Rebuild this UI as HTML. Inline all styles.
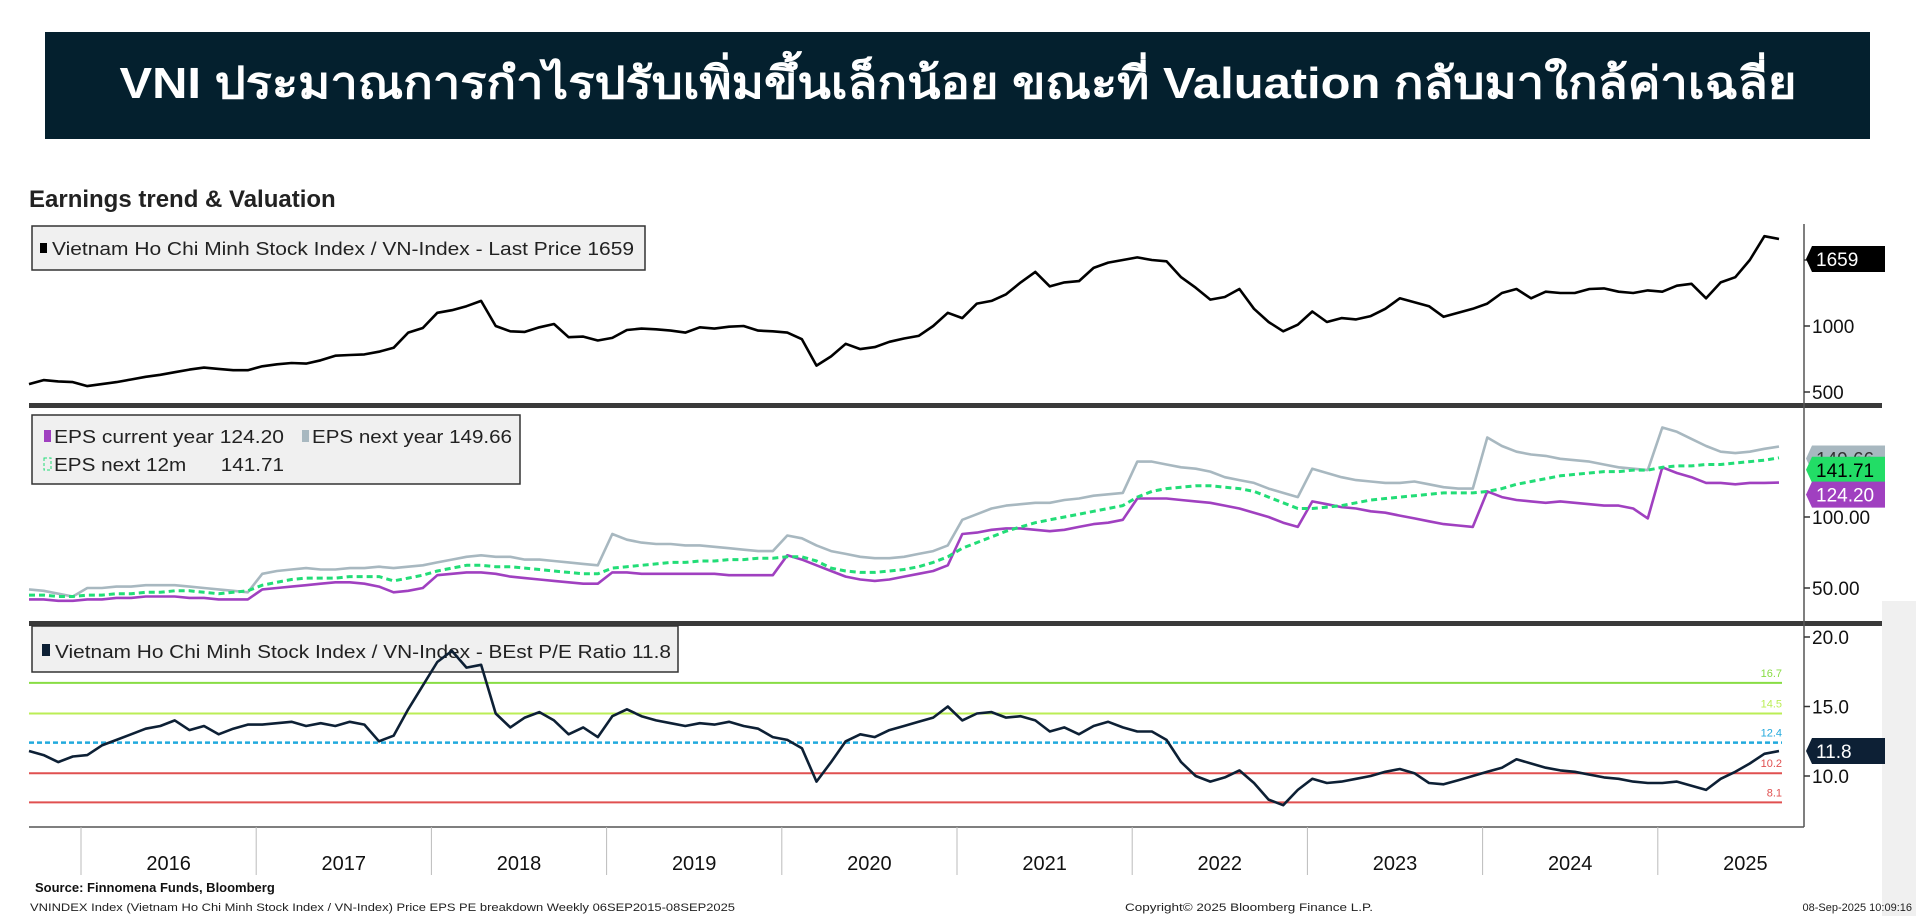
<!DOCTYPE html>
<html><head><meta charset="utf-8"><style>
body{margin:0;background:#fff;width:1916px;height:916px;overflow:hidden}
svg{display:block}
text{font-family:"Liberation Sans","DejaVu Sans",sans-serif}
</style></head><body>
<svg id="c" width="1916" height="916">
<rect x="1882" y="601" width="34" height="315" fill="#f0f0f0"/>
<rect x="45" y="32" width="1825" height="107" fill="#04202e"/>
<text x="958" y="98" text-anchor="middle" fill="#fff" font-size="44" font-weight="bold" textLength="1677" lengthAdjust="spacingAndGlyphs">VNI ประมาณการกำไรปรับเพิ่มขึ้นเล็กน้อย ขณะที่ Valuation กลับมาใกล้ค่าเฉลี่ย</text>
<text x="29" y="207" font-size="24" font-weight="bold" fill="#222">Earnings trend &amp; Valuation</text>
<rect x="29" y="403" width="1853" height="5" fill="#3a3a3a"/>
<rect x="29" y="621" width="1853" height="5" fill="#3a3a3a"/>
<line x1="1804" y1="224" x2="1804" y2="827" stroke="#555" stroke-width="1.5"/>
<line x1="29" y1="827" x2="1804" y2="827" stroke="#555" stroke-width="1.5"/>
<rect x="32" y="626" width="646" height="46" fill="#f0f0f0" stroke="#333" stroke-width="1.5"/>
<rect x="42" y="644" width="8" height="12" fill="#0d2035"/>
<text x="55" y="658" font-size="18" fill="#222" textLength="616" lengthAdjust="spacingAndGlyphs">Vietnam Ho Chi Minh Stock Index / VN-Index - BEst P/E Ratio 11.8</text>
<g id="g"></g>
<rect x="32" y="226" width="613" height="44" fill="#f0f0f0" stroke="#333" stroke-width="1.5"/>
<rect x="40" y="243" width="7" height="10" fill="#000"/>
<text x="52" y="255" font-size="18" fill="#222" textLength="582" lengthAdjust="spacingAndGlyphs">Vietnam Ho Chi Minh Stock Index / VN-Index - Last Price 1659</text>
<rect x="32" y="415" width="488" height="69" fill="#f0f0f0" stroke="#333" stroke-width="1.5"/>
<rect x="44" y="430" width="7" height="12" fill="#a040c0"/>
<text x="54" y="443" font-size="18" fill="#222" textLength="230" lengthAdjust="spacingAndGlyphs">EPS current year 124.20</text>
<rect x="302" y="430" width="7" height="12" fill="#a8b8c0"/>
<text x="312" y="443" font-size="18" fill="#222" textLength="200" lengthAdjust="spacingAndGlyphs">EPS next year 149.66</text>
<rect x="44" y="458" width="7" height="12" fill="none" stroke="#22dd77" stroke-dasharray="3,2"/>
<text x="54" y="471" font-size="18" fill="#222" textLength="230" lengthAdjust="spacingAndGlyphs">EPS next 12m&#160;&#160;&#160;&#160;&#160;&#160;141.71</text>
<g id="tags"></g>
<text x="35" y="892" font-size="13" font-weight="bold" fill="#111">Source: Finnomena Funds, Bloomberg</text>
<text x="30" y="911" font-size="11" fill="#222" textLength="705" lengthAdjust="spacingAndGlyphs">VNINDEX Index (Vietnam Ho Chi Minh Stock Index / VN-Index) Price EPS PE breakdown  Weekly 06SEP2015-08SEP2025</text>
<text x="1125" y="911" font-size="11" fill="#222" textLength="248" lengthAdjust="spacingAndGlyphs">Copyright© 2025 Bloomberg Finance L.P.</text>
<text x="1912" y="911" font-size="11" fill="#222" text-anchor="end">08-Sep-2025 10:09:16</text>
</svg>
<script>
const years=["2016","2017","2018","2019","2020","2021","2022","2023","2024","2025"];
const vni=[560,590,580,575,
545,560,575,595,615,630,650,670,685,675,665,665,
695,710,720,715,740,775,780,785,805,835,950,985,
1100,1120,1150,1190,1000,960,955,990,1015,915,920,890,
910,970,980,975,965,950,990,980,995,1000,965,960,
950,900,700,770,865,825,840,880,905,925,1000,1100,
1060,1170,1190,1240,1330,1410,1300,1330,1340,1440,1480,1500,
1520,1500,1490,1370,1290,1200,1220,1280,1130,1030,960,1010,
1110,1030,1060,1050,1075,1130,1210,1180,1150,1070,1100,1130,
1170,1250,1280,1210,1260,1250,1250,1280,1285,1260,1250,1270,
1260,1305,1320,1210,1330,1370,1500,1680,1659];
const epsCur=[42,42,41,41,
42,42,43,43,44,44,44,43,43,42,42,42,
49,50,51,52,53,54,54,53,51,47,48,50,
59,60,61,61,60,58,57,56,55,54,53,53,
61,61,60,60,60,60,60,60,59,59,59,59,
73,70,66,62,58,56,55,56,58,60,62,66,
88,89,91,92,92,91,90,91,93,95,96,98,
113,113,113,112,111,110,108,106,103,100,96,93,
111,109,107,106,104,103,101,99,97,95,94,93,
118,114,112,111,110,111,110,109,108,108,106,99,
135,131,128,124,124,123,124,124,124.2];
const epsNext=[49,48,46,44,
50,50,51,51,52,52,52,51,50,49,48,47,
60,62,63,64,63,63,64,64,65,64,65,66,
68,70,72,73,72,72,70,70,69,68,67,66,
88,84,82,81,81,80,80,79,78,77,76,76,
87,85,80,76,74,72,71,71,72,74,76,80,
98,102,106,108,109,110,110,112,113,115,116,117,
139,139,137,135,134,132,128,126,124,120,117,114,
134,131,128,126,125,124,124,125,123,121,120,120,
156,150,146,144,143,141,140,139,137,135,134,133,
163,160,155,150,146,145,146,148,149.66];
const eps12m=[45,45,44,44,
45,45,46,46,47,47,48,48,47,46,47,48,
52,54,56,57,57,57,58,58,58,55,57,59,
62,64,66,66,65,65,64,63,62,61,60,60,
64,65,66,67,68,68,69,69,70,70,71,71,
72,72,69,64,62,61,61,62,63,65,68,72,
78,82,86,90,93,96,98,100,102,104,106,108,
114,118,120,121,122,122,121,120,118,114,110,106,
106,107,108,110,112,113,114,115,116,117,117,117,
118,120,123,125,127,129,130,131,132,132,133,133,
135,136,136,137,137,138,139,140,141.71];
const pe=[11.8,11.5,11.0,11.4,
11.5,12.2,12.6,13.0,13.4,13.6,14.0,13.3,13.6,13.0,13.4,13.7,
13.7,13.8,13.9,13.6,13.8,13.6,13.9,13.7,12.5,12.9,14.8,16.5,
18.2,19.0,17.8,18.0,14.5,13.5,14.2,14.6,14.0,13.0,13.5,12.8,
14.3,14.8,14.3,14.0,13.8,13.6,13.8,13.7,13.9,13.6,13.4,12.8,
12.6,12.0,9.6,11.0,12.5,13.0,12.8,13.3,13.6,13.9,14.2,15.0,
14.0,14.5,14.6,14.2,14.3,14.0,13.2,13.5,13.0,13.6,13.9,13.5,
13.2,13.2,12.6,11.0,10.0,9.6,9.9,10.4,9.5,8.3,7.9,9.0,
9.8,9.5,9.6,9.8,10.0,10.3,10.5,10.2,9.5,9.4,9.7,10.0,
10.3,10.6,11.2,10.9,10.6,10.4,10.3,10.1,9.9,9.8,9.6,9.5,
9.5,9.6,9.3,9.0,9.8,10.3,10.9,11.6,11.8];
const priceTicks=[500,1000,1500];
const epsTicks=[50,100];
const peTicks=[10,15,20];
const peLevels=[16.7,14.5,12.4,10.2,8.1];
const peLevelColors=["#88dd44","#bbee55","#22aadd","#e05050","#e05050"];

const NS="http://www.w3.org/2000/svg";
const g=document.getElementById('g'), tg=document.getElementById('tags');
function mk(p,tag,at){const e=document.createElementNS(NS,tag);for(const k in at)e.setAttribute(k,at[k]);p.appendChild(e);return e;}
function x(i){return 29+i*(1779-29)/(vni.length-1);}
function xYear(y){return 81+(y-2016)*175.2;}
function yP(v){return 326-(v-1000)*0.132;}
function yE(v){return 517-(v-100)*1.42;}
function yR(v){return 776-(v-10)*13.9;}
function pts(arr,f){return arr.map((v,i)=>x(i).toFixed(1)+','+f(v).toFixed(1)).join(' ');}

years.forEach((y,i)=>{
  const xs=xYear(+y);
  const l=mk(g,'line',{x1:xs,y1:827,x2:xs,y2:875,stroke:'#bbb','stroke-width':1});
  
  
  const t=mk(g,'text',{x:xs+87.6,y:870,'font-size':20,'text-anchor':'middle',fill:'#111'});
  t.textContent=y;
  
  
});
function ticks(arr,f,fmt,nm){arr.forEach(v=>{
  const l=mk(g,'line',{x1:1804,y1:f(v),x2:1810,y2:f(v),stroke:'#333','stroke-width':1.5});
  
  
  const t=mk(g,'text',{x:1812,y:f(v)+7,'font-size':19,fill:'#111'});
  t.textContent=fmt(v);
  
  
});}
ticks(priceTicks,yP,v=>String(v),'price-axis');
ticks(epsTicks,yE,v=>v.toFixed(2),'eps-axis');
ticks(peTicks,yR,v=>v.toFixed(1),'pe-axis');

peLevels.forEach((v,i)=>{
  const l=mk(g,'line',{x1:29,y1:yR(v),x2:1782,y2:yR(v),stroke:peLevelColors[i],'stroke-width':i==2?2.5:2,'stroke-dasharray':i==2?'5,3':'none'});
  
  
  const t=mk(g,'text',{x:1782,y:yR(v)-6,'font-size':11,fill:peLevelColors[i],'text-anchor':'end'});
  t.textContent=v.toFixed(1);
  
  
});

function line(arr,f,col,w,dash,nm){
  const p=mk(g,'polyline',{points:pts(arr,f),fill:'none',stroke:col,'stroke-width':w,'stroke-linejoin':'round','stroke-dasharray':dash||'none'});
  
  
}
line(vni,yP,'#000',2.6,null,'vni-price-line');
line(epsNext,yE,'#a8b8c0',2.6,null,'eps-next-year-line');
line(epsCur,yE,'#a040c0',2.6,null,'eps-current-year-line');
line(eps12m,yE,'#22dd77',3,'6,4','eps-next-12m-line');
line(pe,yR,'#0d2035',2.6,null,'pe-ratio-line');

function tag(v,f,bg,fg,nm){
  const yc=f(v);
  const p=mk(tg,'polygon',{points:`1806,${yc} 1812,${yc-13} 1885,${yc-13} 1885,${yc+13} 1812,${yc+13}`,fill:bg});
  
  
  const t=mk(tg,'text',{x:1816,y:yc+7,'font-size':19,fill:fg});
  t.textContent=typeof v==='number'&&v<1000?v.toFixed(v<20?1:2):String(v);
  
  
}
tag(vni[vni.length-1],v=>yP(v)+20,'#000','#fff','price-last-tag');
tag(epsNext[epsNext.length-1],v=>yE(v)+12,'#a8b8c0','#333','eps-next-year-tag');
tag(eps12m[eps12m.length-1],v=>yE(v)+12,'#22dd66','#000','eps-next-12m-tag');
tag(epsCur[epsCur.length-1],v=>yE(v)+12,'#a040c0','#fff','eps-current-year-tag');
tag(pe[pe.length-1],yR,'#0d2035','#fff','pe-last-tag');
</script>
</body></html>
